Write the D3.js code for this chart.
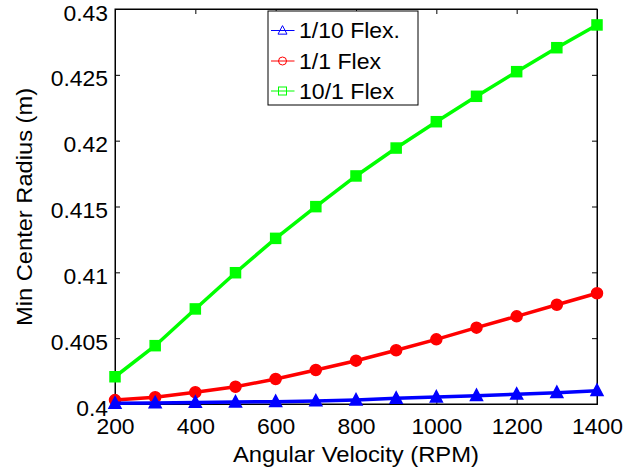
<!DOCTYPE html>
<html><head><meta charset="utf-8">
<script src="https://cdn.jsdelivr.net/npm/d3@7"></script>
<style>body{margin:0;background:#fff;} text{font-family:"Liberation Sans",Arial,sans-serif;}</style>
</head><body>
<svg id="c" width="624" height="473"></svg>
<script>
const rpm = [200,300,400,500,600,700,800,900,1000,1100,1200,1300,1400];
const flex01 = [0.40005,0.40008,0.40012,0.40015,0.40018,0.40023,0.40030,0.40043,0.40053,0.40063,0.40074,0.40086,0.40101];
const flex1  = [0.40030,0.40051,0.40089,0.40131,0.40190,0.40258,0.40329,0.40408,0.40491,0.40580,0.40666,0.40754,0.40841];
const flex10 = [0.40207,0.40443,0.40722,0.40997,0.41258,0.41499,0.41732,0.41944,0.42144,0.42337,0.42524,0.42706,0.42879];
const seriesNames = ["1/10 Flex.","1/1 Flex","10/1 Flex"];
const seriesColors = ["#0000ff","#ff0000","#00ff00"];
const xTicks = [200,400,600,800,1000,1200,1400];
const yTicks = [0.4,0.405,0.41,0.415,0.42,0.425,0.43];
const yTickLabels = ["0.4","0.405","0.41","0.415","0.42","0.425","0.43"];

const svg = d3.select("#c");
const L=115,R=597,T=9,B=404;
const x = d3.scaleLinear().domain([200,1400]).range([L,R]);
const y = d3.scaleLinear().domain([0.4,0.43]).range([B,T]);

svg.append("rect").attr("x",L).attr("y",T).attr("width",R-L).attr("height",B-T)
  .attr("fill","#fff").attr("stroke","#000").attr("stroke-width",1);

function stretch(sel,f){
  sel.each(function(){
    const w=this.getComputedTextLength();
    d3.select(this).attr("textLength",w*f).attr("lengthAdjust","spacingAndGlyphs");
  });
}

const fs = "22px";
const xb = svg.append("g").attr("transform",`translate(0,${B})`)
  .call(d3.axisBottom(x).tickValues(xTicks).tickSize(-5).tickPadding(14.5).tickFormat(d3.format("d")));
const xt = svg.append("g").attr("transform",`translate(0,${T})`)
  .call(d3.axisTop(x).tickValues(xTicks).tickSize(-5).tickFormat(""));
const yl = svg.append("g").attr("transform",`translate(${L},0)`)
  .call(d3.axisLeft(y).tickValues(yTicks).tickSize(-5).tickPadding(7).tickFormat((d,i)=>yTickLabels[i]));
const yr = svg.append("g").attr("transform",`translate(${R},0)`)
  .call(d3.axisRight(y).tickValues(yTicks).tickSize(-5).tickFormat(""));
[xb,xt,yl,yr].forEach(g=>{
  g.select(".domain").attr("stroke","#000");
  g.selectAll(".tick line").attr("stroke","#000");
  g.selectAll("text").attr("font-size",fs).attr("fill","#000").attr("font-family","Liberation Sans, Arial, sans-serif");
});
yl.selectAll("text").attr("dy","0.5em");
xb.selectAll("text").attr("dy","0.71em");
stretch(yl.selectAll("text"),1.04);
stretch(xb.selectAll("text"),1.04);

const xtitle = svg.append("text").attr("x",356).attr("y",462).attr("text-anchor","middle")
  .attr("font-size","22px").text("Angular Velocity (RPM)")
  .attr("textLength",246).attr("lengthAdjust","spacingAndGlyphs");
const ytitle = svg.append("text").attr("transform",`translate(32,207) rotate(-90)`).attr("text-anchor","middle")
  .attr("font-size","22px").text("Min Center Radius (m)")
  .attr("textLength",238).attr("lengthAdjust","spacingAndGlyphs");

const all = [flex01,flex1,flex10];
const line = d3.line().x((d,i)=>x(rpm[i])).y(d=>y(d));
const plot = svg.append("g");
function marker(g,type,cx,cy,color,s,filled,sw){
  if(type===0){
    const h=s*0.9;
    g.append("path").attr("d",`M${cx},${cy-h*0.6}L${cx+s/2},${cy+h*0.45}L${cx-s/2},${cy+h*0.45}Z`)
      .attr("fill",filled?color:"none").attr("stroke",color).attr("stroke-width",sw);
  } else if(type===1){
    g.append("circle").attr("cx",cx).attr("cy",cy).attr("r",s/2)
      .attr("fill",filled?color:"none").attr("stroke",color).attr("stroke-width",sw);
  } else {
    g.append("rect").attr("x",cx-s/2).attr("y",cy-s/2).attr("width",s).attr("height",s)
      .attr("fill",filled?color:"none").attr("stroke",color).attr("stroke-width",sw);
  }
}
[2,1,0].forEach(k=>{
  plot.append("path").datum(all[k]).attr("d",line).attr("fill","none")
    .attr("stroke",seriesColors[k]).attr("stroke-width",3.5);
  all[k].forEach((v,i)=>marker(plot,k,x(rpm[i]),y(v),seriesColors[k],k===0?12:(k===1?11:10),true,1.5));
});

const lg = svg.append("g");
lg.append("rect").attr("x",268).attr("y",11).attr("width",150).attr("height",94)
  .attr("fill","#fff").attr("stroke","#000").attr("stroke-width",1);
const ly=[30.5,61,91];
const lw=[101,82,95];
seriesNames.forEach((n,k)=>{
  lg.append("line").attr("x1",271).attr("x2",294.5).attr("y1",ly[k]).attr("y2",ly[k])
    .attr("stroke",seriesColors[k]).attr("stroke-width",1);
  marker(lg,k,282.5,ly[k],seriesColors[k],k===0?9:8,false,1);
  lg.append("text").attr("x",299).attr("y",ly[k]).attr("dy","0.36em").attr("font-size","22px").text(n)
    .attr("textLength",lw[k]).attr("lengthAdjust","spacingAndGlyphs");
});
</script>
</body></html>
